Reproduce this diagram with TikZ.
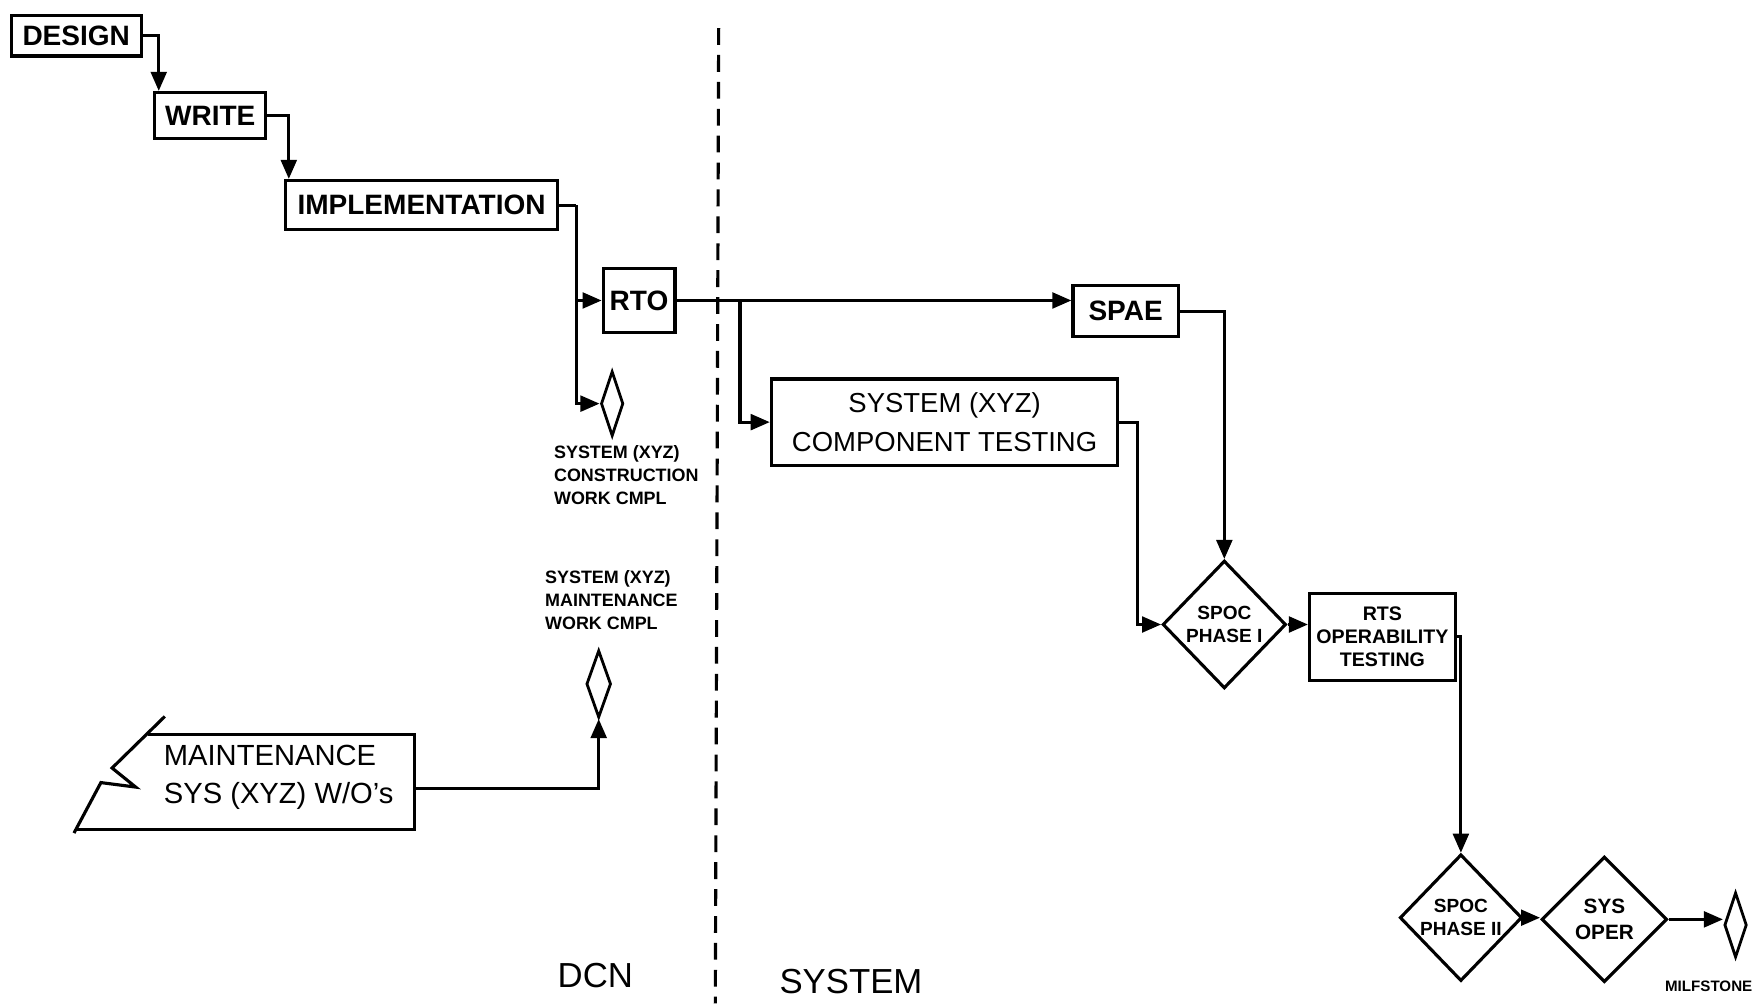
\documentclass[tikz,border=0pt]{standalone}
\usepackage{fontspec}
\setmainfont{Liberation Sans}
\usetikzlibrary{shapes.geometric,arrows.meta,calc}

\begin{document}
\begin{tikzpicture}[x=1pt,y=1pt,
  lw/.style={line width=2.8pt},
  boxnode/.style={draw, lw, rectangle, inner sep=0pt,
    font=\fontsize{25}{30}\selectfont\bfseries},
  plainbox/.style={draw, lw, rectangle, inner sep=0pt, align=center,
    font=\fontsize{24.5}{34}\selectfont},
  smallbox/.style={draw, lw, rectangle, inner sep=0pt, align=center,
    font=\fontsize{17.5}{20.5}\selectfont\bfseries},
  dia/.style={draw, lw, diamond, inner sep=0pt},
  milestone/.style={draw, line width=2.5pt, diamond, inner sep=0pt},
  diatext/.style={align=center, inner sep=0pt,
    font=\fontsize{17}{20.5}\selectfont\bfseries},
  smalllab/.style={align=left, inner sep=0pt,
    font=\fontsize{16}{20.5}\selectfont\bfseries},
  biglab/.style={inner sep=0pt, font=\fontsize{31}{36}\selectfont},
  conn/.style={lw},
  arr/.style={lw, -{Triangle[length=17pt,width=14pt]}},
  divider/.style={line width=2.8pt, dash pattern=on 15pt off 9pt}]

\useasboundingbox (0,0) rectangle (1568,-895);

% ---- DCN side: development chain ----
\node[boxnode, minimum width=116pt, minimum height=36pt] (design) at (68,-32) {DESIGN};
\node[boxnode, minimum width=99pt, minimum height=41pt] (write) at (187.5,-103) {WRITE};
\node[boxnode, minimum width=242pt, minimum height=44pt] (impl) at (376,-183) {IMPLEMENTATION};
\node[boxnode, minimum width=64pt, minimum height=57pt] (rto) at (570,-268) {RTO};

\node[milestone, minimum width=20pt, minimum height=58pt] (m1) at (546,-360) {};
\node[smalllab, anchor=north west] (lab1) at (494,-397)
  {SYSTEM (XYZ)\\CONSTRUCTION\\WORK CMPL};

\draw[arr] (design.east) -| ($(write.north west)+(5,0)$);
\draw[arr] (write.east) -| ($(impl.north west)+(4,0)$);
\coordinate (j1) at (514,-183);
\draw[conn] (impl.east) -- (j1);
\draw[arr] (j1) |- (m1.west);
\draw[arr] (j1 |- rto.west) -- (rto.west);

% ---- maintenance work orders ----
\coordinate (mz1) at (147,-639);
\coordinate (mz2) at (100,-685);
\coordinate (mz3) at (121,-702);
\coordinate (mz4) at (90,-698);
\coordinate (mz5) at (66,-743);
\coordinate (mtl) at (132,-655);
\coordinate (mtr) at (370,-655);
\coordinate (mbr) at (370,-740);
\coordinate (mbl) at (68,-740);
\coordinate (maintR) at (370,-703);
\draw[lw, line join=miter] (mz1) -- (mz2) -- (mz3) -- (mz4) -- (mz5);
\draw[lw, line join=miter] (mtl) -- (mtr) -- (mbr) -- (mbl);
\node[anchor=west, align=left, inner sep=0pt,
  font=\fontsize{26}{34}\selectfont] (maint) at (146,-693)
  {MAINTENANCE\\SYS (XYZ) W/O's};

\node[milestone, minimum width=22pt, minimum height=60pt] (m2) at (534,-610) {};
\node[smalllab, anchor=north west] (lab2) at (486,-509)
  {SYSTEM (XYZ)\\MAINTENANCE\\WORK CMPL};
\draw[arr] (maintR) -| (m2.south);

% ---- boundary between DCN and SYSTEM ----
\coordinate (dtop) at (641,-25);
\coordinate (dbot) at (638,-895);
\draw[divider] (dtop) -- (dbot);
\node[biglab] (dcn) at (531,-870) {DCN};
\node[biglab] (sysl) at (759,-875) {SYSTEM};

% ---- SYSTEM side ----
\node[boxnode, minimum width=94pt, minimum height=45pt] (spae) at (1004,-277.5) {SPAE};
\node[plainbox, minimum width=309pt, minimum height=77pt] (sct) at (842.5,-376.5)
  {SYSTEM (XYZ)\\COMPONENT TESTING};

\draw[arr] (rto.east) -- (rto.east -| spae.west);
\coordinate (j2) at (660,-268);
\draw[arr] (j2) |- (sct.west);

\node[dia, minimum width=110pt, minimum height=114pt] (spoc1) at (1092,-557) {};
\node[diatext] (spoc1t) at (spoc1) {SPOC\\PHASE I};

\draw[arr] (spae.east) -| (spoc1.north);
\draw[arr] (sct.east) -- ++(16,0) |- (spoc1.west);

\node[smallbox, minimum width=130pt, minimum height=78pt] (rts) at (1233,-568)
  {RTS\\OPERABILITY\\TESTING};
\draw[arr] (spoc1.east) -- (spoc1.east -| rts.west);

\node[dia, minimum width=109pt, minimum height=113pt] (spoc2) at (1303,-818.5) {};
\node[diatext] (spoc2t) at (spoc2) {SPOC\\PHASE II};
\draw[arr] (rts.east) -| (spoc2.north);

\node[dia, minimum width=112pt, minimum height=112pt] (sysop) at (1431,-820) {};
\node[diatext, font=\fontsize{18.5}{23}\selectfont\bfseries] (sysopt) at (sysop) {SYS\\OPER};
\draw[arr] (spoc2.east) -- (spoc2.east -| sysop.west);

\node[milestone, minimum width=20pt, minimum height=58pt] (m3) at (1548,-825) {};
\draw[arr] (sysop.east) -- (sysop.east -| m3.west);
\node[inner sep=0pt, font=\fontsize{13.5}{16}\selectfont\bfseries] (mlab) at (1524,-880) {MILFSTONE};

\end{tikzpicture}
\end{document}
